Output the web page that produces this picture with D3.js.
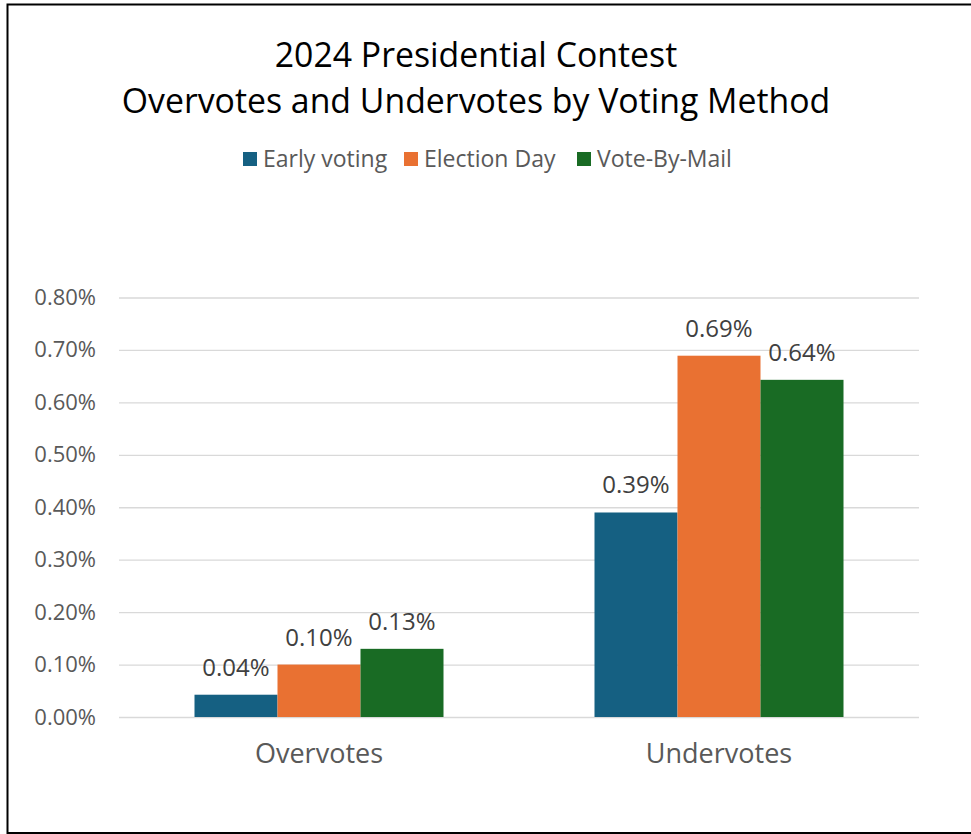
<!DOCTYPE html>
<html lang="en">
<head>
  <meta charset="UTF-8">
  <title>2024 Presidential Contest</title>
  <script src="https://d3js.org/d3.v7.min.js"></script>
  <style>
    body { margin: 0; background: #fff; }
    svg, svg text { font-family: "Open Sans", "Liberation Sans", Arial, sans-serif; }
    svg { display: block; }
    .grid line { stroke: #d9d9d9; stroke-width: 1.3; }
    .grid .domain { display: none; }
    .grid text { fill: #595959; font-size: 22px; }
    .cat text { fill: #595959; font-size: 27px; }
    .cat .domain, .cat line { display: none; }
    .val { fill: #404040; font-size: 24px; text-anchor: middle; }
    .legend text { fill: #595959; font-size: 23px; }
  </style>
</head>
<body>
<script>
  // data (values are in percent)
  const categories = ["Overvotes", "Undervotes"]
  const seriesNames = ["Early voting", "Election Day", "Vote-By-Mail"]
  const earlyVoting = [0.0425, 0.39]
  const electionDay = [0.10, 0.689]
  const voteByMail = [0.13, 0.643]
  const yTicks = [0, 0.1, 0.2, 0.3, 0.4, 0.5, 0.6, 0.7, 0.8]
  const colors = ["#156082", "#e97132", "#196b24"]

  const seriesValues = [earlyVoting, electionDay, voteByMail]

  const width = 971, height = 834
  const svg = d3.select("body").append("svg")
    .attr("width", width)
    .attr("height", height)

  // outer frame (right edge is cut off in the picture)
  svg.append("rect")
    .attr("x", 7.5).attr("y", 4.5)
    .attr("width", width + 10).attr("height", 828.5)
    .attr("fill", "none")
    .attr("stroke", "#000")
    .attr("stroke-width", 2)

  // title
  const title = svg.append("text")
    .attr("text-anchor", "middle")
    .attr("fill", "#000")
    .style("font-size", "33.8px")
  title.append("tspan").attr("x", 476).attr("y", 67).text("2024 Presidential Contest")
  title.append("tspan").attr("x", 476).attr("y", 113).text("Overvotes and Undervotes by Voting Method")

  // legend
  const legend = svg.append("g").attr("class", "legend")
  const legendX = [243, 404, 577]
  seriesNames.forEach((name, i) => {
    const g = legend.append("g").attr("transform", `translate(${legendX[i]},152)`)
    g.append("rect").attr("width", 14).attr("height", 14).attr("fill", colors[i])
    g.append("text").attr("x", 20).attr("y", 7).attr("dy", "0.35em").text(name)
  })

  // scales
  const plotLeft = 119, plotRight = 919
  const y = d3.scaleLinear().domain([0, 0.8]).range([717, 297.5])
  const x0 = d3.scaleBand().domain(categories).range([plotLeft, plotRight])
  const groupW = x0.bandwidth() * 0.6225
  const x1 = d3.scaleBand().domain(seriesNames)
    .range([(x0.bandwidth() - groupW) / 2, (x0.bandwidth() + groupW) / 2])

  // gridlines + y labels
  svg.append("g")
    .attr("class", "grid")
    .attr("transform", `translate(${plotLeft},0)`)
    .call(d3.axisLeft(y)
      .tickValues(yTicks)
      .tickSize(-(plotRight - plotLeft))
      .tickPadding(23)
      .tickFormat(d => d.toFixed(2) + "%"))

  // category labels
  svg.append("g")
    .attr("class", "cat")
    .attr("transform", "translate(0,717)")
    .call(d3.axisBottom(x0).tickSize(0).tickPadding(27))

  // bars
  const groups = svg.append("g").selectAll("g")
    .data(categories)
    .join("g")
    .attr("transform", d => `translate(${x0(d)},0)`)

  const cells = groups.selectAll("g")
    .data((c, ci) => seriesNames.map((s, si) => ({ s, si, v: seriesValues[si][ci] })))
    .join("g")

  cells.append("rect")
    .attr("x", d => x1(d.s))
    .attr("y", d => y(d.v))
    .attr("width", x1.bandwidth())
    .attr("height", d => y(0) - y(d.v))
    .attr("fill", d => colors[d.si])

  cells.append("text")
    .attr("class", "val")
    .attr("x", d => x1(d.s) + x1.bandwidth() / 2)
    .attr("y", d => y(d.v) - 19)
    .text(d => d.v.toFixed(2) + "%")
</script>
</body>
</html>
